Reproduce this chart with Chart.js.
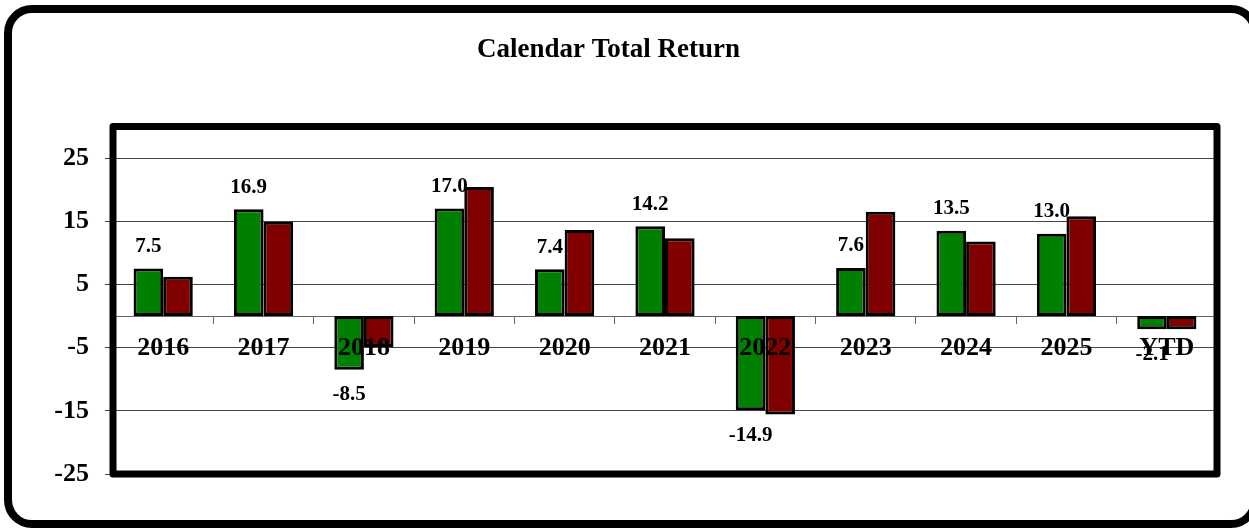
<!DOCTYPE html>
<html>
<head>
<meta charset="utf-8">
<script src="https://cdn.jsdelivr.net/npm/chart.js@4/dist/chart.umd.min.js"></script>
<style>
  html, body { margin: 0; padding: 0; background: #fff; width: 1249px; height: 529px; overflow: hidden; }
  #frame {
    position: absolute; left: 4px; top: 5px;
    width: 1239px; height: 507px;
    border: 8px solid #000; border-radius: 28px;
    background: #fff;
  }
  #grafico { position: absolute; left: 0; top: 0; }
</style>
</head>
<body>
<div id="frame"></div>
<canvas id="grafico" width="1249" height="529"></canvas>
<script>
// dados
const anos = ['2016', '2017', '2018', '2019', '2020', '2021', '2022', '2023', '2024', '2025', 'YTD'];
const retornoFundo = [7.5, 16.9, -8.5, 17.0, 7.4, 14.2, -14.9, 7.6, 13.5, 13.0, -2.1];
const retornoIndice = [6.2, 14.9, -4.9, 20.4, 13.6, 12.3, -15.6, 16.5, 11.8, 15.8, -2.1];
const ticksY = [-25, -15, -5, 5, 15, 25];

const fonte = 'Liberation Serif, Times New Roman, serif';

// borda grossa em volta da area do grafico
const bordaArea = {
  id: 'bordaArea',
  afterDraw(chart) {
    const a = chart.chartArea;
    const ctx = chart.ctx;
    ctx.save();
    ctx.lineWidth = 7;
    ctx.strokeStyle = '#000';
    ctx.lineJoin = 'round';
    ctx.strokeRect(a.left, a.top, a.right - a.left, a.bottom - a.top);
    ctx.restore();
  }
};

// rotulos de valor so na primeira serie
const rotulos = {
  id: 'rotulos',
  afterDatasetsDraw(chart) {
    const ctx = chart.ctx;
    const meta = chart.getDatasetMeta(0);
    ctx.save();
    ctx.font = 'bold 21px ' + fonte;
    ctx.fillStyle = '#000';
    ctx.textAlign = 'center';
    ctx.textBaseline = 'middle';
    meta.data.forEach(function(bar, i) {
      const v = retornoFundo[i];
      const y = v >= 0 ? bar.y - 22 : bar.y + 25;
      ctx.fillText(v.toFixed(1), bar.x, y);
    });
    ctx.restore();
  }
};

const ctx = document.getElementById('grafico').getContext('2d');
const grafico = new Chart(ctx, {
  type: 'bar',
  data: {
    labels: anos,
    datasets: [{
      label: 'Fundo',
      data: retornoFundo,
      backgroundColor: '#008000',
      borderColor: '#000',
      borderWidth: 3,
      borderSkipped: false
    }, {
      label: 'Indice',
      data: retornoIndice,
      backgroundColor: '#800000',
      borderColor: '#000',
      borderWidth: 3,
      borderSkipped: false
    }]
  },
  options: {
    responsive: false,
    animation: false,
    categoryPercentage: 0.59,
    barPercentage: 1,
    layout: { padding: { left: 0, right: 32, bottom: 55, top: 0 } },
    plugins: {
      legend: { display: false },
      tooltip: { enabled: false },
      title: {
        display: true,
        text: 'Calendar Total Return',
        color: '#000',
        font: { family: fonte, size: 27, weight: 'bold' },
        padding: { top: 34, bottom: 60 }
      }
    },
    scales: {
      x: {
        position: { y: 0 },
        grid: {
          drawOnChartArea: false,
          tickLength: 7,
          color: '#666',
          offset: true
        },
        border: { display: true, color: '#666', width: 1 },
        ticks: {
          z: 1,
          color: '#000',
          padding: 10,
          font: { family: fonte, size: 26, weight: 'bold' },
          maxRotation: 0
        }
      },
      y: {
        min: -25,
        max: 30,
        afterBuildTicks: function(scale) {
          scale.ticks = ticksY.map(function(v) { return { value: v }; });
        },
        afterFit: function(scale) {
          scale.width = 113;
        },
        grid: { color: '#444', tickLength: 8 },
        border: { display: false },
        ticks: {
          color: '#000',
          padding: 16,
          font: { family: fonte, size: 26, weight: 'bold' }
        }
      }
    }
  },
  plugins: [bordaArea, rotulos]
});
</script>
</body>
</html>
